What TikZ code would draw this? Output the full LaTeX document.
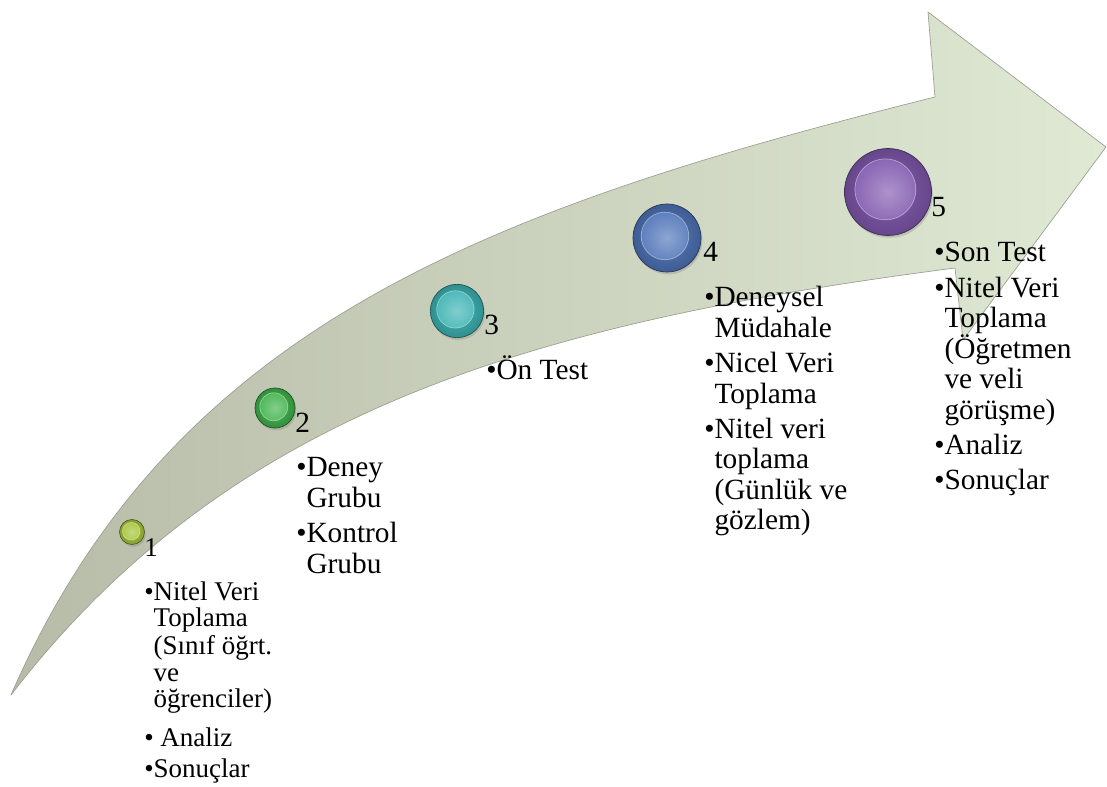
\documentclass[tikz,border=0pt]{standalone}
\usepackage{fontspec}
\setmainfont{Liberation Serif}
\usetikzlibrary{shadows}
\definecolor{cA}{HTML}{A6C53A}
\definecolor{cB}{HTML}{40B34C}
\definecolor{cC}{HTML}{3DB3B4}
\definecolor{cD}{HTML}{4F74B8}
\definecolor{cE}{HTML}{8058AE}
\definecolor{arrL}{HTML}{B7BCA8}
\definecolor{arrM}{HTML}{CCD3BF}
\definecolor{arrR}{HTML}{DFE9D3}
\definecolor{arrE}{HTML}{9A9F90}
\newcommand\blk[1]{\vtop{\lineskiplimit=-\maxdimen\relax #1}}
\newcommand\bl[1]{\hbox{\textbullet#1}}
\newcommand\cl[1]{\hbox{\phantom{\textbullet}#1}}
\newcommand\gap[1]{\vskip#1\relax}
\tikzset{
  txt/.style={inner sep=0pt, anchor=base west, font=\fontsize{22}{22.9}\selectfont},
  txts/.style={inner sep=0pt, anchor=base west, font=\fontsize{20.25}{20.25}\selectfont},
  btn/.style n args={2}{circle, inner sep=0pt, minimum size=#2,
    draw=#1!45!black, line width=0.5pt,
    inner color=#1!95!white, outer color=#1!80!black,
    drop shadow={opacity=0.3, shadow xshift=1pt, shadow yshift=-1.8pt},
    path picture={\shade[inner color=#1!65!white, outer color=#1]
        ([shift={(-0.03*#2,0.03*#2)}]path picture bounding box.center) circle[radius=0.35*#2];
      \draw[white, opacity=0.45, line width=0.5pt]
        ([shift={(-0.03*#2,0.03*#2)}]path picture bounding box.center) circle[radius=0.35*#2];}},
}
\begin{document}
\begin{tikzpicture}[x=0.75pt, y=-0.75pt]
\fill[white] (0,0) rectangle (1107,787);
\useasboundingbox (0,0) rectangle (1107,787);
% curved arrow
\shadedraw[left color=arrL, middle color=arrM, right color=arrR, draw=arrE, line width=0.5pt, line join=round]
  (11,695) .. controls (171,327) and (485,209.5) .. (935,97)
  -- (928,12) -- (1106,147) -- (963,340) -- (955,268)
  .. controls (535,322.6) and (231,409) .. (11,695)
  -- cycle;
% buttons
\node[btn={cA}{18.75pt}] (b1) at (132,532) {};
\node[btn={cB}{30pt}] (b2) at (275,408) {};
\node[btn={cC}{40pt}] (b3) at (457,311) {};
\node[btn={cD}{51pt}] (b4) at (667,238) {};
\node[btn={cE}{65.25pt}] (b5) at (888,192) {};
% numbers
\node[txts] (n1) at (144,557) {1};
\node[txt] (n2) at (295,433) {2};
\node[txt] (n3) at (484,335) {3};
\node[txt] (n4) at (703,262) {4};
\node[txt] (n5) at (931,217) {5};
% texts
\node[txts] (t1) at (144,600) {\blk{\bl{Nitel Veri}\cl{Toplama}\cl{(Sınıf öğrt.}\cl{ve}\cl{öğrenciler)}\gap{9pt}\bl{\ Analiz}\gap{3pt}\bl{Sonuçlar}}};
\node[txt] (t2) at (296,477) {\blk{\bl{Deney}\cl{Grubu}\gap{3.4pt}\bl{Kontrol}\cl{Grubu}}};
\node[txt] (t3) at (486,380) {\blk{\bl{Ön Test}}};
\node[txt] (t4) at (704,307) {\blk{\bl{Deneysel}\cl{Müdahale}\gap{3.4pt}\bl{Nicel Veri}\cl{Toplama}\gap{3.4pt}\bl{Nitel veri}\cl{toplama}\cl{(Günlük ve}\cl{gözlem)}}};
\node[txt] (t5) at (934,262) {\blk{\bl{Son Test}\gap{3.4pt}\bl{Nitel Veri}\cl{Toplama}\cl{(Öğretmen}\cl{ve veli}\cl{görüşme)}\gap{3.4pt}\bl{Analiz}\gap{3.4pt}\bl{Sonuçlar}}};
\end{tikzpicture}
\end{document}
